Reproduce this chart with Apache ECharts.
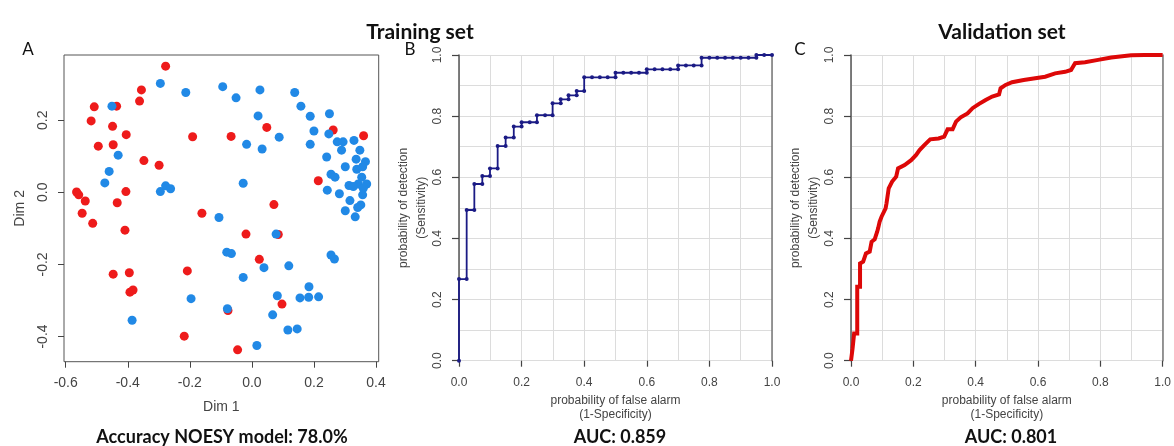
<!DOCTYPE html>
<html><head><meta charset="utf-8">
<script src="https://cdn.jsdelivr.net/npm/echarts@6/dist/echarts.min.js"></script>
<style>html,body{margin:0;padding:0;background:#fff}#c{width:1174px;height:446px}</style>
</head><body><div id="c"></div>
<script>
// Panel A: MDS plot (Dim 1, Dim 2)
const redPoints = [
  [-0.278,0.350],[-0.356,0.284],[-0.362,0.253],[-0.508,0.237],[-0.436,0.239],[-0.518,0.198],
  [-0.449,0.183],[-0.405,0.160],[-0.495,0.128],[-0.447,0.132],[-0.348,0.088],[-0.299,0.075],
  [-0.565,0.001],[-0.558,-0.007],[-0.537,-0.024],[-0.406,0.002],[-0.434,-0.029],[-0.547,-0.058],
  [-0.513,-0.086],[-0.409,-0.105],[-0.191,0.154],[-0.161,-0.058],[0.048,0.180],[-0.067,0.155],
  [0.071,-0.034],[-0.019,-0.116],[0.085,-0.117],[0.262,0.173],[0.360,0.157],[0.214,0.032],
  [0.024,-0.186],[-0.208,-0.218],[-0.447,-0.227],[-0.395,-0.223],[-0.393,-0.277],[-0.383,-0.271],
  [0.097,-0.310],[-0.077,-0.328],[-0.218,-0.399],[-0.046,-0.437]
];
const bluePoints = [
  [-0.295,0.302],[-0.451,0.239],[-0.431,0.103],[-0.460,0.058],[-0.474,0.026],[-0.295,0.002],
  [-0.278,0.018],[-0.262,0.010],[-0.213,0.277],[-0.094,0.293],[-0.051,0.262],[0.026,0.284],
  [0.020,0.212],[-0.017,0.133],[0.033,0.120],[0.088,0.153],[-0.028,0.025],[-0.106,-0.070],
  [0.078,-0.116],[0.138,0.277],[0.158,0.239],[0.188,0.211],[0.250,0.218],[0.200,0.170],
  [0.248,0.162],[0.188,0.133],[0.275,0.140],[0.294,0.140],[0.329,0.144],[0.289,0.117],
  [0.348,0.117],[0.241,0.098],[0.336,0.092],[0.366,0.085],[0.301,0.071],[0.338,0.064],
  [0.357,0.071],[0.255,0.050],[0.268,0.042],[0.354,0.042],[0.313,0.019],[0.343,0.023],
  [0.370,0.023],[0.359,0.011],[0.327,0.016],[0.243,0.006],[0.282,-0.004],[0.357,-0.007],
  [0.316,-0.023],[0.351,-0.035],[0.341,-0.042],[0.301,-0.051],[0.333,-0.068],[-0.081,-0.166],
  [-0.066,-0.170],[0.039,-0.209],[0.119,-0.204],[-0.028,-0.236],[0.255,-0.174],[0.266,-0.185],
  [-0.196,-0.295],[0.184,-0.262],[0.082,-0.287],[0.155,-0.293],[0.183,-0.291],[0.215,-0.290],
  [-0.079,-0.323],[0.067,-0.340],[-0.386,-0.355],[0.116,-0.382],[0.146,-0.379],[0.016,-0.425]
];
const dim1Ticks = [-0.6,-0.4,-0.2,0.0,0.2,0.4];
const dim2Ticks = [-0.4,-0.2,0.0,0.2];

// Panel B: training ROC
const trainFPR = [0,0,0.0245,0.0245,0.049,0.049,0.0745,0.0745,0.099,0.099,0.1235,0.1235,0.149,0.149,
  0.175,0.175,0.2,0.2,0.226,0.249,0.249,0.275,0.299,0.299,0.325,0.325,0.35,0.35,0.376,0.376,0.4,0.4,
  0.425,0.45,0.475,0.5,0.5,0.525,0.55,0.575,0.6,0.6,0.625,0.65,0.675,0.7,0.7,0.725,0.75,0.775,0.775,
  0.8,0.825,0.85,0.875,0.9,0.925,0.95,0.95,0.975,1.0];
const trainTPR = [0,0.267,0.267,0.493,0.493,0.578,0.578,0.604,0.604,0.629,0.629,0.702,0.702,0.730,
  0.730,0.766,0.766,0.780,0.780,0.780,0.803,0.803,0.803,0.842,0.842,0.855,0.855,0.868,0.868,0.882,0.882,0.927,
  0.927,0.927,0.927,0.927,0.942,0.942,0.942,0.942,0.942,0.953,0.953,0.953,0.953,0.953,0.966,0.966,0.966,0.966,0.991,
  0.991,0.991,0.991,0.991,0.991,0.991,0.991,1.0,1.0,1.0];

// Panel C: validation ROC
const valFPR = [0,0.005,0.01,0.02,0.02,0.029,0.029,0.039,0.048,0.06,0.066,0.076,0.084,0.087,0.092,0.098,
  0.103,0.111,0.114,0.116,0.121,0.132,0.145,0.151,0.172,0.193,0.209,0.22,0.236,0.254,0.281,0.299,0.31,0.326,
  0.337,0.352,0.374,0.39,0.411,0.432,0.453,0.475,0.48,0.496,0.517,0.554,0.591,0.623,0.655,0.687,0.706,0.719,
  0.751,0.793,0.835,0.899,0.942,1.0];
const valTPR = [0,0.04,0.089,0.089,0.242,0.242,0.318,0.324,0.351,0.357,0.389,0.397,0.422,0.433,0.455,0.471,
  0.475,0.498,0.515,0.52,0.564,0.586,0.602,0.629,0.64,0.656,0.673,0.689,0.706,0.724,0.727,0.733,0.757,0.757,
  0.782,0.796,0.809,0.826,0.84,0.853,0.864,0.871,0.891,0.902,0.911,0.918,0.924,0.929,0.94,0.945,0.951,0.973,
  0.976,0.984,0.992,0.999,1.0,1.0];

const fmt = v => Number(v).toFixed(1);
const tickFont = 'Liberation Sans, Arial, sans-serif';
const zip = (a,b) => a.map((v,i)=>[v,b[i]]);

function rocX(grid) {
  return {
    gridIndex: grid, type: 'value', min: 0, max: 1, interval: 0.2,
    name: 'probability of false alarm\n(1-Specificity)', nameLocation: 'middle', nameGap: 32,
    nameTextStyle: {fontFamily: tickFont, fontSize: 12, color: '#444', lineHeight: 14},
    axisLine: {show: false, onZero: false},
    axisTick: {show: true, length: 6, lineStyle: {color: '#444', width: 1.2}},
    axisLabel: {fontFamily: tickFont, fontSize: 12, color: '#444', margin: 16, formatter: fmt},
    splitLine: {show: true, lineStyle: {color: '#dcdcdc', width: 1}},
    minorTick: {show: false, splitNumber: 2},
    minorSplitLine: {show: true, lineStyle: {color: '#dcdcdc', width: 1}}
  };
}
function rocY(grid, gap) {
  return {
    gridIndex: grid, type: 'value', min: 0, max: 1, interval: 0.2,
    name: 'probability of detection\n(Sensitivity)', nameLocation: 'middle', nameGap: gap,
    nameTextStyle: {fontFamily: tickFont, fontSize: 12, color: '#444', lineHeight: 18},
    axisLine: {show: true, onZero: false, lineStyle: {color: '#555', width: 1.5}},
    axisTick: {show: true, length: 7, lineStyle: {color: '#444', width: 1.2}},
    axisLabel: {fontFamily: tickFont, fontSize: 12, color: '#444', margin: 15, rotate: 90, formatter: fmt},
    splitLine: {show: true, lineStyle: {color: '#dcdcdc', width: 1}},
    minorTick: {show: false, splitNumber: 2},
    minorSplitLine: {show: true, lineStyle: {color: '#dcdcdc', width: 1}}
  };
}
function rocRight(grid) {
  return {
    gridIndex: grid, type: 'value', min: 0, max: 1, position: 'right',
    axisLine: {show: true, onZero: false, lineStyle: {color: '#777', width: 1.5}},
    axisTick: {show: false}, axisLabel: {show: false}, splitLine: {show: false}
  };
}

const option = {
  animation: false,
  backgroundColor: '#fff',
  grid: [
    {left: 64, top: 55, width: 314.7, height: 306.7, show: true, borderColor: '#555', borderWidth: 1, backgroundColor: 'transparent'},
    {left: 459, top: 55, width: 313, height: 305.7},
    {left: 851, top: 55, width: 314, height: 305.7}
  ],
  xAxis: [
    {
      gridIndex: 0, type: 'value', min: -0.6055, max: 0.4087,
      name: 'Dim 1', nameLocation: 'middle', nameGap: 38,
      nameTextStyle: {fontFamily: tickFont, fontSize: 14, color: '#444'},
      axisLine: {show: false, onZero: false},
      axisTick: {show: true, length: 6, customValues: dim1Ticks, lineStyle: {color: '#444'}},
      axisLabel: {fontFamily: tickFont, fontSize: 14, color: '#444', margin: 14, customValues: dim1Ticks, formatter: fmt},
      splitLine: {show: false}
    },
    rocX(1), rocX(2)
  ],
  yAxis: [
    {
      gridIndex: 0, type: 'value', min: -0.4699, max: 0.3809,
      name: 'Dim 2', nameLocation: 'middle', nameGap: 37,
      nameTextStyle: {fontFamily: tickFont, fontSize: 14, color: '#444'},
      axisLine: {show: false, onZero: false},
      axisTick: {show: true, length: 6, customValues: dim2Ticks, lineStyle: {color: '#444'}},
      axisLabel: {fontFamily: tickFont, fontSize: 14, color: '#444', margin: 14, rotate: 90, customValues: dim2Ticks, formatter: fmt},
      splitLine: {show: false}
    },
    rocY(1, 26), rocRight(1), rocY(2, 27), rocRight(2)
  ],
  series: [
    {type: 'scatter', xAxisIndex: 0, yAxisIndex: 0, data: redPoints, symbolSize: 9,
     itemStyle: {color: '#ee1b1b', opacity: 1}},
    {type: 'scatter', xAxisIndex: 0, yAxisIndex: 0, data: bluePoints, symbolSize: 9,
     itemStyle: {color: '#2189e6', opacity: 1}},
    {type: 'line', xAxisIndex: 1, yAxisIndex: 1, data: zip(trainFPR, trainTPR),
     symbol: 'circle', symbolSize: 4, showAllSymbol: true,
     lineStyle: {color: '#1b1b85', width: 1.8}, itemStyle: {color: '#1b1b85'}},
    {type: 'line', xAxisIndex: 2, yAxisIndex: 3, data: zip(valFPR, valTPR),
     symbol: 'none', lineStyle: {color: '#dd0808', width: 4, join: 'miter'}}
  ],
  graphic: [
    {type: 'text', style: {text: 'Training set', x: 420, y: 32, textAlign: 'center', textVerticalAlign: 'middle', font: 'bold 21px Lato, sans-serif', fill: '#111'}},
    {type: 'text', style: {text: 'Validation set', x: 1002, y: 32, textAlign: 'center', textVerticalAlign: 'middle', font: 'bold 21px Lato, sans-serif', fill: '#111'}},
    {type: 'text', style: {text: 'A', x: 28, y: 50, textAlign: 'center', textVerticalAlign: 'middle', font: '17px Lato, sans-serif', fill: '#111'}},
    {type: 'text', style: {text: 'B', x: 410, y: 50, textAlign: 'center', textVerticalAlign: 'middle', font: '17px Lato, sans-serif', fill: '#111'}},
    {type: 'text', style: {text: 'C', x: 800, y: 50, textAlign: 'center', textVerticalAlign: 'middle', font: '17px Lato, sans-serif', fill: '#111'}},
    {type: 'text', style: {text: 'Accuracy NOESY model: 78.0%', x: 222, y: 437, textAlign: 'center', textVerticalAlign: 'middle', font: 'bold 18px Lato, sans-serif', fill: '#111'}},
    {type: 'text', style: {text: 'AUC: 0.859', x: 620, y: 437, textAlign: 'center', textVerticalAlign: 'middle', font: 'bold 18px Lato, sans-serif', fill: '#111'}},
    {type: 'text', style: {text: 'AUC: 0.801', x: 1011, y: 437, textAlign: 'center', textVerticalAlign: 'middle', font: 'bold 18px Lato, sans-serif', fill: '#111'}}
  ]
};
const chart = echarts.init(document.getElementById('c'), null, {renderer: 'canvas'});
chart.setOption(option);
</script></body></html>
